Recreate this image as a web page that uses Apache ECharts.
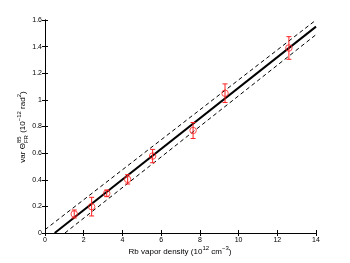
<!DOCTYPE html>
<html><head><meta charset="utf-8">
<script src="https://cdn.jsdelivr.net/npm/echarts@6/dist/echarts.min.js"></script>
<style>html,body{margin:0;padding:0;background:#fff}#c{width:350px;height:263px}</style>
</head><body><div id="c"></div>
<script>
// Data
var densities = [1.51, 2.41, 3.19, 4.27, 5.56, 7.65, 9.3, 12.6];
var variances = [0.143, 0.198, 0.298, 0.403, 0.578, 0.77, 1.05, 1.39];
var errors = [0.03, 0.07, 0.025, 0.035, 0.05, 0.06, 0.07, 0.085];
var fitLine = [[0.5, 0], [14, 1.55]];
var upperBound = [[0, 0.025], [14, 1.6]];
var lowerBound = [[1.03, 0], [14, 1.49]];
var xTicks = [0, 2, 4, 6, 8, 10, 12, 14];
var yTicks = [0, 0.2, 0.4, 0.6, 0.8, 1, 1.2, 1.4, 1.6];

var FONT = '"Liberation Sans", Arial, sans-serif';
var cv = document.createElement('canvas').getContext('2d');
function tw(s, size) { cv.font = size + 'px ' + FONT; return cv.measureText(s).width; }

function buildLabel(pieces, main, small) {
  var els = [], x = 0;
  pieces.forEach(function (p) {
    if (p[1] === 'n') {
      els.push({type: 'text', x: x, y: 0, style: {text: p[0], font: main + 'px ' + FONT, fill: '#000', textVerticalAlign: 'middle'}});
      x += tw(p[0], main);
    } else if (p[1] === 'sup') {
      els.push({type: 'text', x: x, y: -main * 0.45, style: {text: p[0], font: small + 'px ' + FONT, fill: '#000', textVerticalAlign: 'middle'}});
      x += tw(p[0], small);
    } else if (p[1] === 'supsub') {
      els.push({type: 'text', x: x, y: -main * 0.5, style: {text: p[0][0], font: small + 'px ' + FONT, fill: '#000', textVerticalAlign: 'middle'}});
      els.push({type: 'text', x: x, y: main * 0.45, style: {text: p[0][1], font: small + 'px ' + FONT, fill: '#000', textVerticalAlign: 'middle'}});
      x += Math.max(tw(p[0][0], small), tw(p[0][1], small));
    }
  });
  els.forEach(function (e) { e.x -= x / 2; });
  return els;
}

var yTitle = buildLabel([['var \u0398', 'n'], [['85', 'FR'], 'supsub'], [' (10', 'n'], ['\u221212', 'sup'], [' rad', 'n'], ['2', 'sup'], [')', 'n']], 8, 6);
var xTitle = buildLabel([['Rb vapor density (10', 'n'], ['12', 'sup'], [' cm', 'n'], ['\u22123', 'sup'], [')', 'n']], 8, 6);

var chart = echarts.init(document.getElementById('c'));
var axisCommon = {
  axisLine: {show: true, lineStyle: {color: '#000', width: 1}},
  axisTick: {show: true, inside: true, length: 3, lineStyle: {color: '#000'}},
  splitLine: {show: false}
};
var points = densities.map(function (d, i) { return [d, variances[i]]; });
var errData = densities.map(function (d, i) { return [d, variances[i] - errors[i], variances[i] + errors[i]]; });

chart.setOption({
  animation: false,
  grid: {left: 45, right: 34, top: 20, bottom: 30},
  xAxis: [
    Object.assign({type: 'value', min: 0, max: 14, interval: 2, position: 'bottom',
      axisLabel: {fontSize: 7, fontFamily: FONT, color: '#000', margin: 4}}, axisCommon),
    Object.assign({type: 'value', min: 0, max: 14, interval: 2, position: 'top', axisLabel: {show: false}}, axisCommon)
  ],
  yAxis: [
    Object.assign({type: 'value', min: 0, max: 1.6, interval: 0.2, position: 'left',
      axisLabel: {fontSize: 7, fontFamily: FONT, color: '#000', margin: 3,
        formatter: function (v) { return String(Number(v.toFixed(1))); }}}, axisCommon),
    Object.assign({type: 'value', min: 0, max: 1.6, interval: 0.2, position: 'right', axisLabel: {show: false}}, axisCommon)
  ],
  series: [
    {type: 'line', data: fitLine, showSymbol: false, lineStyle: {color: '#000', width: 2}, z: 3},
    {type: 'line', data: upperBound, showSymbol: false, lineStyle: {color: '#000', width: 1, type: [4, 3]}, z: 3},
    {type: 'line', data: lowerBound, showSymbol: false, lineStyle: {color: '#000', width: 1, type: [4, 3]}, z: 3},
    {type: 'custom', data: errData, z: 4,
      renderItem: function (params, api) {
        var lo = api.coord([api.value(0), api.value(1)]);
        var hi = api.coord([api.value(0), api.value(2)]);
        var w = 2.5, s = {stroke: '#ff2020', lineWidth: 1};
        return {type: 'group', children: [
          {type: 'line', shape: {x1: lo[0], y1: lo[1], x2: hi[0], y2: hi[1]}, style: s},
          {type: 'line', shape: {x1: lo[0] - w, y1: lo[1], x2: lo[0] + w, y2: lo[1]}, style: s},
          {type: 'line', shape: {x1: hi[0] - w, y1: hi[1], x2: hi[0] + w, y2: hi[1]}, style: s}
        ]};
      }},
    {type: 'scatter', data: points, symbol: 'circle', symbolSize: 6.5, z: 5,
      itemStyle: {color: 'rgba(0,0,0,0)', borderColor: '#ff2020', borderWidth: 1}}
  ],
  graphic: [
    {type: 'group', x: 23, y: 127, rotation: Math.PI / 2, children: yTitle},
    {type: 'group', x: 180, y: 252, children: xTitle}
  ]
});
</script>
</body></html>
